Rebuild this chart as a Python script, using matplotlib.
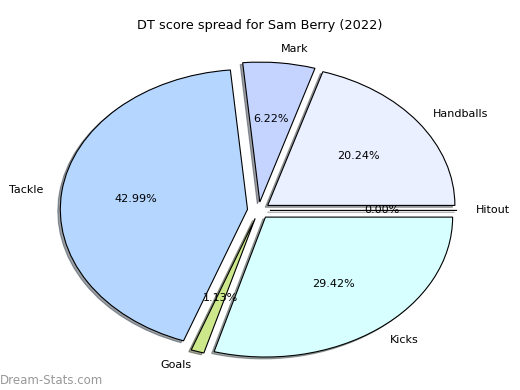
import matplotlib
matplotlib.use("Agg")
import matplotlib.pyplot as plt

labels = ["Hitout", "Handballs", "Mark", "Tackle", "Goals", "Kicks"]
values = [0.00, 20.24, 6.22, 42.99, 1.13, 29.42]
colors = ["#ffffff", "#eaf0ff", "#c4d4ff", "#b4d6ff", "#cce88a", "#d8ffff"]
explode = [0.06] * len(values)
title = "DT score spread for Sam Berry (2022)"
watermark = "Dream-Stats.com"

fig = plt.figure(figsize=(5.2, 3.9), dpi=100)
ax = fig.add_axes([0.0474, 0.012, 0.900, 0.897])
ax.pie(values, labels=labels, colors=colors, explode=explode,
       shadow={"ox": -0.0095, "oy": -0.0095},
       autopct="%1.2f%%", startangle=0, counterclock=True,
       wedgeprops=dict(edgecolor="black", linewidth=0.8),
       textprops=dict(fontsize=8))
ax.set_aspect("auto")
ax.set_xlim(-1.25, 1.25)
ax.set_ylim(-1.25, 1.25)
fig.text(0.5, 0.935, title, ha="center", va="center", fontsize=9.3)
fig.text(0.0, 0.025, watermark, ha="left", va="center", fontsize=8.5, color="#999999")
fig.savefig("out.png", dpi=100)
